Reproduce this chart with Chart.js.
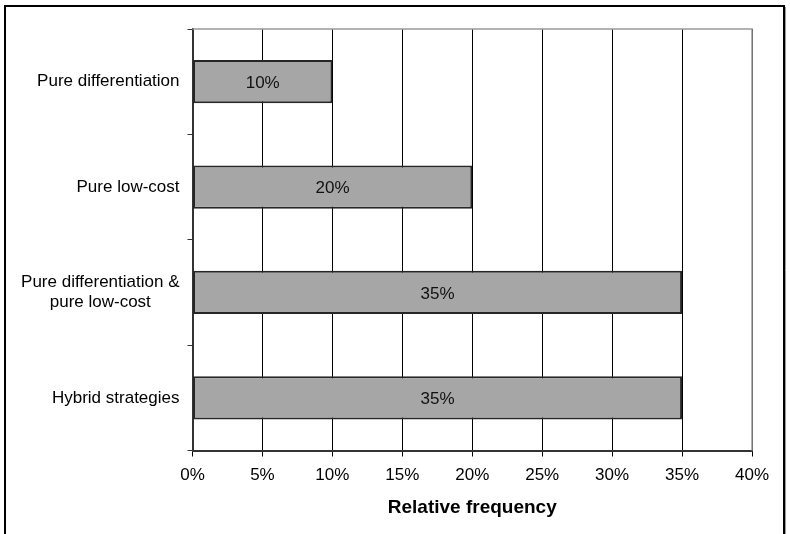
<!DOCTYPE html>
<html>
<head>
<meta charset="utf-8">
<title>Relative frequency of strategy types</title>
<script src="https://cdn.jsdelivr.net/npm/chart.js@4.4.1/dist/chart.umd.min.js"></script>
<style>
  html, body { margin: 0; padding: 0; background: #fff; }
  #wrap { width: 790px; height: 534px; position: relative; }
</style>
</head>
<body>
<div id="wrap"><canvas id="chart" width="790" height="534"></canvas></div>
<script>
// Strategy categories (top to bottom) and their relative frequency in percent
const categories = [
  'Pure differentiation',
  'Pure low-cost',
  ['Pure differentiation &', 'pure low-cost'],
  'Hybrid strategies'
];
const shares = [10, 20, 35, 35];

// Horizontal axis range and tick step (percent)
const axisMin = 0;
const axisMax = 40;
const axisStep = 5;
const axisTitle = 'Relative frequency';

const FONT = '"Liberation Sans", Arial, sans-serif';

// Frame around the whole figure plus grey top/right edges of the plot box
const framePlugin = {
  id: 'frame',
  beforeDraw(chart) {
    const ctx = chart.ctx;
    ctx.save();
    ctx.fillStyle = '#ffffff';
    ctx.fillRect(0, 0, chart.width, chart.height);
    ctx.strokeStyle = '#000000';
    ctx.lineWidth = 2;
    ctx.strokeRect(5, 6, 779, 700);
    ctx.strokeStyle = '#9a9a9a';
    ctx.lineWidth = 1;
    ctx.beginPath();
    ctx.moveTo(785.5, 7);
    ctx.lineTo(785.5, 534);
    ctx.stroke();
    ctx.restore();
  },
  afterDraw(chart) {
    const { ctx, chartArea: a } = chart;
    ctx.save();
    ctx.strokeStyle = '#9a9a9a';
    ctx.lineWidth = 1.5;
    ctx.beginPath();
    ctx.moveTo(a.left, a.top);
    ctx.lineTo(a.right, a.top);
    ctx.lineTo(a.right, a.bottom);
    ctx.stroke();
    ctx.restore();
  }
};

// Category names on the left: right-aligned blocks, multi-line names centred line by line
const categoryLabelPlugin = {
  id: 'categoryLabels',
  afterDraw(chart) {
    const { ctx, chartArea } = chart;
    const yScale = chart.scales.y;
    ctx.save();
    ctx.font = '17px ' + FONT;
    ctx.fillStyle = '#000000';
    ctx.textAlign = 'center';
    ctx.textBaseline = 'middle';
    const right = chartArea.left - 13;
    const lineGap = 20;
    categories.forEach((cat, i) => {
      const lines = Array.isArray(cat) ? cat : [cat];
      const maxW = Math.max(...lines.map(l => ctx.measureText(l).width));
      const cx = right - maxW / 2;
      const cy = yScale.getPixelForValue(i);
      lines.forEach((line, j) => {
        ctx.fillText(line, cx, cy + (j - (lines.length - 1) / 2) * lineGap);
      });
    });
    ctx.restore();
  }
};

// Value labels centred inside each bar
const valueLabelPlugin = {
  id: 'valueLabels',
  afterDatasetsDraw(chart) {
    const ctx = chart.ctx;
    const meta = chart.getDatasetMeta(0);
    ctx.save();
    ctx.font = '17px ' + FONT;
    ctx.fillStyle = '#111111';
    ctx.textAlign = 'center';
    ctx.textBaseline = 'middle';
    meta.data.forEach((bar, i) => {
      const p = bar.getProps(['x', 'y', 'base'], true);
      ctx.fillText(shares[i] + '%', (p.x + p.base) / 2, p.y + 1.5);
    });
    ctx.restore();
  }
};

new Chart(document.getElementById('chart'), {
  type: 'bar',
  data: {
    labels: categories,
    datasets: [{
      data: shares,
      backgroundColor: '#a6a6a6',
      borderColor: '#262626',
      borderWidth: 2,
      borderSkipped: false,
      barPercentage: 0.41,
      categoryPercentage: 1
    }]
  },
  options: {
    indexAxis: 'y',
    responsive: false,
    animation: false,
    layout: { padding: { top: 29, right: 38, left: 0, bottom: 0 } },
    plugins: {
      legend: { display: false },
      tooltip: { enabled: false }
    },
    scales: {
      x: {
        type: 'linear',
        min: axisMin,
        max: axisMax,
        ticks: {
          stepSize: axisStep,
          padding: 9,
          color: '#000000',
          font: { family: FONT, size: 17 },
          callback: v => v + '%'
        },
        grid: {
          color: '#000000',
          lineWidth: 1,
          drawTicks: true,
          tickLength: 6,
          tickColor: '#000000'
        },
        border: { display: true, color: '#333333', width: 2 },
        title: {
          display: true,
          text: axisTitle,
          color: '#000000',
          font: { family: FONT, size: 19, weight: 'bold' },
          padding: { top: 0, bottom: 14.6 }
        },
        afterFit(scale) { scale.height = 83.5; }
      },
      y: {
        type: 'category',
        offset: true,
        ticks: { display: false },
        grid: {
          offset: true,
          drawOnChartArea: false,
          drawTicks: true,
          tickLength: 5,
          color: '#333333',
          tickColor: '#333333'
        },
        border: { display: true, color: '#333333', width: 2 },
        afterFit(scale) { scale.width = 192.5; }
      }
    }
  },
  plugins: [framePlugin, categoryLabelPlugin, valueLabelPlugin]
});
</script>
</body>
</html>
